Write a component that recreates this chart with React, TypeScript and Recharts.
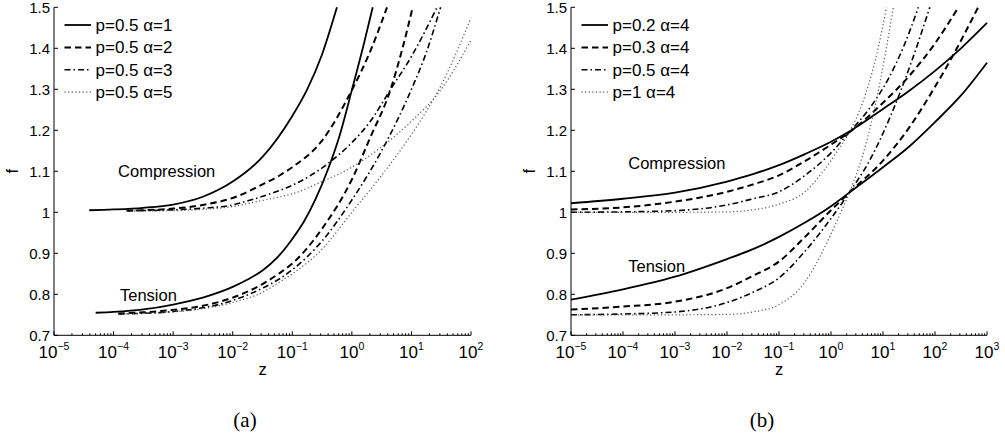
import { Label, Legend, Line, LineChart, ReferenceDot, XAxis, YAxis } from "recharts";

const font = "'Liberation Sans', Arial, Helvetica, sans-serif";

type Row = [number, number];
const pts = (rows: Row[]) => rows.map(([z, f]) => ({ z, f }));

// (a) p = 0.5, alpha varies  -- [z, f]
const compA1: Row[] = [[3.9e-5, 1.005], [1e-4, 1.007], [3.16e-4, 1.011], [1e-3, 1.019], [3.16e-3, 1.038], [1e-2, 1.075], [3.16e-2, 1.135], [0.1, 1.235], [0.178, 1.3], [0.316, 1.385], [0.562, 1.5]];
const tenA1: Row[] = [[5e-5, 0.755], [1e-4, 0.757], [3.16e-4, 0.763], [1e-3, 0.775], [3.16e-3, 0.792], [1e-2, 0.818], [1.78e-2, 0.836], [3.16e-2, 0.858], [5.62e-2, 0.89], [0.1, 0.935], [0.158, 0.978], [0.251, 1.035], [0.398, 1.105], [0.631, 1.19], [1, 1.298], [1.585, 1.41], [2.24, 1.5]];
const compA2: Row[] = [[1.66e-4, 1.004], [3.16e-4, 1.005], [1e-3, 1.009], [3.16e-3, 1.018], [1e-2, 1.035], [3.16e-2, 1.068], [6.3e-2, 1.091], [0.1, 1.11], [0.316, 1.175], [1, 1.298], [2, 1.39], [3.89, 1.5]];
const tenA2: Row[] = [[1.2e-4, 0.753], [3.16e-4, 0.756], [1e-3, 0.762], [3.16e-3, 0.772], [1e-2, 0.792], [3.16e-2, 0.825], [6.3e-2, 0.853], [0.1, 0.875], [0.316, 0.96], [1, 1.08], [2, 1.18], [4.47, 1.3], [7.08, 1.4], [10.5, 1.5]];
const compA3: Row[] = [[1.66e-4, 1.004], [1e-3, 1.006], [3.16e-3, 1.01], [1e-2, 1.018], [2e-2, 1.03], [6.3e-2, 1.054], [0.1, 1.066], [0.398, 1.119], [1, 1.17], [2, 1.22], [4.47, 1.3], [10, 1.38], [26.9, 1.5]];
const tenA3: Row[] = [[1.2e-4, 0.752], [1e-3, 0.758], [3.16e-3, 0.767], [1e-2, 0.785], [3.16e-2, 0.815], [6.3e-2, 0.839], [0.1, 0.86], [0.316, 0.93], [1, 1.03], [3.16, 1.15], [10, 1.3], [17.8, 1.39], [30.9, 1.5]];
const compA5: Row[] = [[1.66e-4, 1.003], [1e-3, 1.004], [3.16e-3, 1.007], [1e-2, 1.014], [2e-2, 1.023], [6.3e-2, 1.038], [0.1, 1.045], [0.316, 1.075], [1, 1.11], [3.16, 1.16], [10, 1.222], [31.6, 1.3], [100, 1.42]];
const tenA5: Row[] = [[1.2e-4, 0.752], [1e-3, 0.757], [3.16e-3, 0.765], [1e-2, 0.78], [3.16e-2, 0.805], [6.3e-2, 0.831], [0.1, 0.85], [0.316, 0.91], [1, 1.0], [3.16, 1.09], [10, 1.19], [31.6, 1.31], [100, 1.474]];

// (b) alpha = 4, p varies
const compB2: Row[] = [[1e-5, 1.022], [1e-4, 1.033], [1e-3, 1.048], [1e-2, 1.075], [3.16e-2, 1.093], [0.1, 1.115], [0.316, 1.142], [1, 1.172], [2.24, 1.197], [10, 1.252], [31.6, 1.296], [100, 1.345], [316, 1.4], [1000, 1.462]];
const tenB2: Row[] = [[1e-5, 0.787], [1e-4, 0.812], [1e-3, 0.843], [1e-2, 0.886], [3.16e-2, 0.91], [0.1, 0.94], [0.316, 0.975], [1, 1.015], [2.24, 1.048], [10, 1.11], [31.6, 1.16], [100, 1.22], [316, 1.285], [1000, 1.365]];
const compB3: Row[] = [[1e-5, 1.007], [1e-4, 1.012], [1e-3, 1.026], [1e-2, 1.05], [3.16e-2, 1.068], [0.1, 1.09], [0.316, 1.125], [1, 1.165], [2.24, 1.195], [10, 1.267], [31.6, 1.332], [100, 1.412], [282, 1.5]];
const tenB3: Row[] = [[1e-5, 0.763], [1e-4, 0.77], [1e-3, 0.782], [1e-2, 0.815], [3.16e-2, 0.845], [0.1, 0.88], [0.316, 0.94], [1, 1.005], [2.24, 1.048], [10, 1.126], [31.6, 1.206], [100, 1.306], [186, 1.365], [676, 1.5]];
const compB5: Row[] = [[1e-5, 1.0], [1e-4, 1.001], [1e-3, 1.004], [1e-2, 1.018], [3.16e-2, 1.033], [0.1, 1.05], [0.316, 1.09], [1, 1.145], [2.24, 1.195], [5.62, 1.255], [12.6, 1.325], [25.1, 1.405], [47.9, 1.5]];
const tenB5: Row[] = [[1e-5, 0.75], [1e-4, 0.752], [1e-3, 0.757], [1e-2, 0.78], [3.16e-2, 0.805], [0.1, 0.84], [0.316, 0.905], [1, 0.985], [2.24, 1.048], [5.62, 1.128], [14.1, 1.236], [35.5, 1.368], [79.4, 1.5]];
const compB10: Row[] = [[1e-5, 1.0], [1e-3, 1.0], [1e-2, 1.001], [3.16e-2, 1.006], [0.1, 1.02], [0.316, 1.05], [0.708, 1.1], [1.26, 1.145], [2.24, 1.195], [3.98, 1.265], [7.08, 1.37], [11.7, 1.5]];
const tenB10: Row[] = [[1e-5, 0.75], [1e-3, 0.75], [1e-2, 0.751], [3.16e-2, 0.757], [0.1, 0.775], [0.316, 0.83], [0.631, 0.895], [1.26, 0.975], [2.24, 1.048], [3.98, 1.135], [7.08, 1.26], [11.2, 1.39], [15.8, 1.5]];

const decadesA = [1e-5, 1e-4, 1e-3, 1e-2, 1e-1, 1, 10, 100];
const decadesB = [1e-5, 1e-4, 1e-3, 1e-2, 1e-1, 1, 10, 100, 1000];
const minorSteps = [2, 3, 4, 5, 6, 7, 8, 9];
const fTicks = [0.7, 0.8, 0.9, 1, 1.1, 1.2, 1.3, 1.4, 1.5];

const lineStyles = {
  solid: { stroke: "#000", strokeWidth: 1.8 },
  dashed: { stroke: "#000", strokeWidth: 2, strokeDasharray: "6.5 4" },
  dashdot: { stroke: "#000", strokeWidth: 1.6, strokeDasharray: "6 3 1.5 3" },
  dotted: { stroke: "#555", strokeWidth: 1.2, strokeDasharray: "1.2 2.4" },
} as const;
type StyleKey = keyof typeof lineStyles;

type Series = { key: string; label: string; style: StyleKey; compression: Row[]; tension: Row[] };

const seriesA: Series[] = [
  { key: "a1", label: "p=0.5 α=1", style: "solid", compression: compA1, tension: tenA1 },
  { key: "a2", label: "p=0.5 α=2", style: "dashed", compression: compA2, tension: tenA2 },
  { key: "a3", label: "p=0.5 α=3", style: "dashdot", compression: compA3, tension: tenA3 },
  { key: "a5", label: "p=0.5 α=5", style: "dotted", compression: compA5, tension: tenA5 },
];
const seriesB: Series[] = [
  { key: "b2", label: "p=0.2 α=4", style: "solid", compression: compB2, tension: tenB2 },
  { key: "b3", label: "p=0.3 α=4", style: "dashed", compression: compB3, tension: tenB3 },
  { key: "b5", label: "p=0.5 α=4", style: "dashdot", compression: compB5, tension: tenB5 },
  { key: "b10", label: "p=1 α=4", style: "dotted", compression: compB10, tension: tenB10 },
];

const withMinor = (decades: number[]) =>
  decades.flatMap((d, i) => (i === decades.length - 1 ? [d] : [d, ...minorSteps.map((m) => m * d)]));

function XTick(props: any) {
  const { x, y, payload } = props;
  const e = Math.log10(payload.value);
  const major = Math.abs(e - Math.round(e)) < 1e-6;
  const n = Math.round(e);
  return (
    <g>
      <line x1={x} x2={x} y1={y} y2={y - (major ? 4 : 2)} stroke="#000" strokeWidth={1} />
      {major && (
        <text x={x} y={y + 22.7} textAnchor="middle" fontSize={17} fontFamily={font} fill="#000">
          10<tspan dy={-8.3} fontSize={10.5}>{n < 0 ? `\u2212${-n}` : `${n}`}</tspan>
        </text>
      )}
    </g>
  );
}

function YTick(props: any) {
  const { x, y, payload } = props;
  return (
    <g>
      <line x1={x} x2={x + 4} y1={y} y2={y} stroke="#000" strokeWidth={1} />
      <text x={x - 4} y={y + 5.3} textAnchor="end" fontSize={15} fontFamily={font} fill="#000">
        {String(Number(payload.value.toFixed(1)))}
      </text>
    </g>
  );
}

function LegendBox({ series }: { series: Series[] }) {
  return (
    <svg width={200} height={110} style={{ display: "block" }}>
      {series.map((s, i) => {
        const cy = 25 + 22.4 * i;
        return (
          <g key={s.key}>
            <line x1={64.5} x2={91} y1={cy} y2={cy} {...lineStyles[s.style]} />
            <text x={95.5} y={cy + 5.8} fontSize={17} fontFamily={font} fill="#000">{s.label}</text>
          </g>
        );
      })}
    </svg>
  );
}

function Note({ text }: { text: string }) {
  return (props: any) => (
    <text x={props.cx} y={props.cy} fontSize={16.5} fontFamily={font} fill="#000">{text}</text>
  );
}

function Panel({ left, width, decades, series, notes }: {
  left: number;
  width: number;
  decades: number[];
  series: Series[];
  notes: { text: string; z: number; f: number }[];
}) {
  const plotWidth = width === 500 ? 417 : 416;
  return (
    <div style={{ position: "absolute", left, top: 0 }}>
      <LineChart width={width} height={441} margin={{ top: 7.3, right: width - 54 - plotWidth, left: 24, bottom: 65.7 }}>
        <XAxis
          dataKey="z"
          type="number"
          scale="log"
          domain={[decades[0], decades[decades.length - 1]]}
          ticks={withMinor(decades)}
          interval={0}
          tickSize={0}
          tickMargin={0}
          tickLine={false}
          axisLine={{ stroke: "#000", strokeWidth: 1 }}
          height={40}
          tick={XTick}
        >
          <Label
            content={(p: any) => (
              <text x={p.viewBox.x + p.viewBox.width / 2} y={p.viewBox.y + 40} textAnchor="middle" fontSize={16.5} fontFamily={font} fill="#000">z</text>
            )}
          />
        </XAxis>
        <YAxis
          type="number"
          domain={[0.7, 1.5]}
          ticks={fTicks}
          interval={0}
          tickSize={0}
          tickMargin={0}
          tickLine={false}
          axisLine={{ stroke: "#000", strokeWidth: 1 }}
          width={30}
          tick={YTick}
        >
          <Label
            content={(p: any) => {
              const cx = p.viewBox.x + p.viewBox.width - 42;
              const cy = p.viewBox.y + p.viewBox.height / 2;
              return (
                <text x={cx} y={cy} transform={`rotate(-90 ${cx} ${cy})`} textAnchor="middle" dominantBaseline="central" fontSize={16.5} fontFamily={font} fill="#000">f</text>
              );
            }}
          />
        </YAxis>
        {series.flatMap((s) => [
          <Line key={`${s.key}c`} data={pts(s.compression)} dataKey="f" type="monotone" dot={false} activeDot={false} legendType="none" isAnimationActive={false} {...lineStyles[s.style]} />,
          <Line key={`${s.key}t`} data={pts(s.tension)} dataKey="f" type="monotone" dot={false} activeDot={false} legendType="none" isAnimationActive={false} {...lineStyles[s.style]} />,
        ])}
        {notes.map((n) => (
          <ReferenceDot key={n.text} x={n.z} y={n.f} r={0} ifOverflow="visible" shape={Note({ text: n.text })} />
        ))}
        <Legend
          layout="vertical"
          align="center"
          verticalAlign="middle"
          wrapperStyle={{ position: "absolute", left: 0, top: 0, width: 200, height: 110 }}
          content={() => <LegendBox series={series} />}
        />
      </LineChart>
    </div>
  );
}

export default function App() {
  return (
    <div style={{ position: "absolute", left: 0, top: 0, width: 1005, height: 441, background: "#fff", overflow: "hidden" }}>
      <Panel
        left={0}
        width={500}
        decades={decadesA}
        series={seriesA}
        notes={[
          { text: "Compression", z: 1.19e-4, f: 1.086 },
          { text: "Tension", z: 1.28e-4, f: 0.784 },
        ]}
      />
      <Panel
        left={517}
        width={488}
        decades={decadesB}
        series={seriesB}
        notes={[
          { text: "Compression", z: 1.26e-4, f: 1.105 },
          { text: "Tension", z: 1.26e-4, f: 0.855 },
        ]}
      />
      <svg width={1005} height={441} style={{ position: "absolute", left: 0, top: 0, pointerEvents: "none" }}>
        <text x={245} y={427} textAnchor="middle" fontSize={21} fontFamily="'Liberation Serif', 'Times New Roman', serif" fill="#000">(a)</text>
        <text x={762} y={427} textAnchor="middle" fontSize={21} fontFamily="'Liberation Serif', 'Times New Roman', serif" fill="#000">(b)</text>
      </svg>
    </div>
  );
}
